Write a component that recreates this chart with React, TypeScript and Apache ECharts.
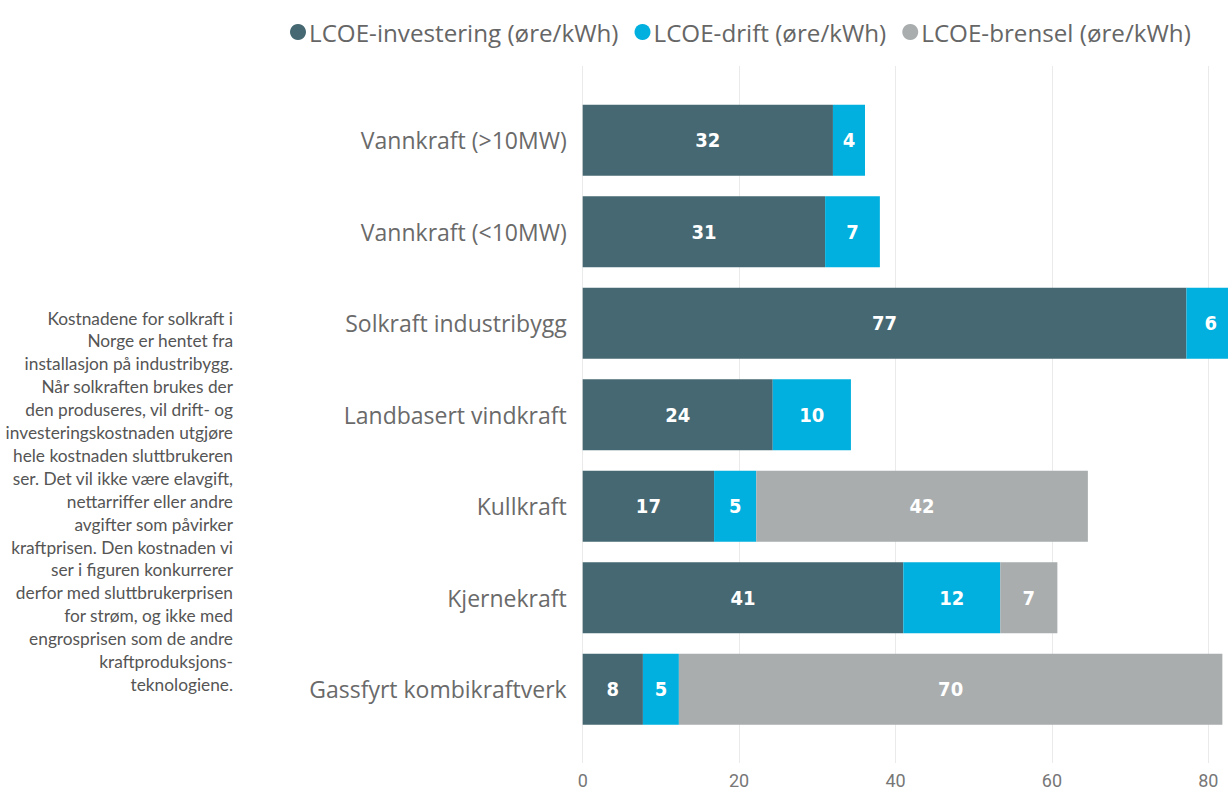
import React, { useEffect, useRef } from "react";
import * as echarts from "echarts";

const categories = [
  "Vannkraft (>10MW)",
  "Vannkraft (<10MW)",
  "Solkraft industribygg",
  "Landbasert vindkraft",
  "Kullkraft",
  "Kjernekraft",
  "Gassfyrt kombikraftverk",
];
const investering = [32.0, 31.0, 77.2, 24.3, 16.8, 41.0, 7.7];
const drift = [4.1, 7.0, 6.2, 10.0, 5.4, 12.4, 4.6];
const brensel = [null, null, null, null, 42.4, 7.3, 69.5];
const seriesNames = [
  "LCOE-investering (øre/kWh)",
  "LCOE-drift (øre/kWh)",
  "LCOE-brensel (øre/kWh)",
];
const colors = ["#456872", "#01B0DE", "#A9ADAE"];
const xTicks = { min: 0, max: 86, interval: 20 };
const noteLines = [
  "Kostnadene for solkraft i",
  "Norge er hentet fra",
  "installasjon på industribygg.",
  "Når solkraften brukes der",
  "den produseres, vil drift- og",
  "investeringskostnaden utgjøre",
  "hele kostnaden sluttbrukeren",
  "ser. Det vil ikke være elavgift,",
  "nettarriffer eller andre",
  "avgifter som påvirker",
  "kraftprisen. Den kostnaden vi",
  "ser i figuren konkurrerer",
  "derfor med sluttbrukerprisen",
  "for strøm, og ikke med",
  "engrosprisen som de andre",
  "kraftproduksjons-",
  "teknologiene.",
];

export default function App() {
  const ref = useRef<HTMLDivElement>(null);
  useEffect(() => {
    if (!ref.current) return;
    const chart = echarts.init(ref.current, null, { renderer: "svg" });
    const pxPerUnit = 7.82;
    const left = 582.7;
    const width = pxPerUnit * xTicks.max;
    const data = [investering, drift, brensel];
    chart.setOption({
      animation: false,
      legend: {
        left: 285,
        top: 15,
        icon: "circle",
        itemWidth: 16,
        itemHeight: 16,
        itemGap: 16,
        textStyle: { fontFamily: "Open Sans", fontSize: 24.2, color: "#666", padding: [0, 0, 0, -2] },
        data: seriesNames,
      },
      grid: [
        { left, top: 66, width, height: 697 },
        { left, top: 94.5, width, height: 640.5 },
      ],
      xAxis: [
        {
          gridIndex: 0,
          type: "value",
          min: xTicks.min,
          max: xTicks.max,
          interval: xTicks.interval,
          axisLine: { show: false },
          axisTick: { show: false },
          splitLine: { lineStyle: { color: "#EAEAEA", width: 1 } },
          axisLabel: {
            showMaxLabel: false,
            color: "#777",
            fontSize: 18,
            fontFamily: "Roboto",
            margin: 8,
          },
        },
        {
          gridIndex: 1,
          type: "value",
          min: xTicks.min,
          max: xTicks.max,
          interval: xTicks.interval,
          show: false,
        },
      ],
      yAxis: [
        { gridIndex: 0, type: "value", show: false },
        {
          gridIndex: 1,
          type: "category",
          inverse: true,
          data: categories,
          axisLine: { show: false },
          axisTick: { show: false },
          splitLine: { show: false },
          axisLabel: {
            color: "#6a6a6a",
            fontSize: 23,
            fontFamily: "Open Sans",
            margin: 16,
          },
        },
      ],
      series: seriesNames.map((name, i) => ({
        name,
        type: "bar",
        stack: "total",
        xAxisIndex: 1,
        yAxisIndex: 1,
        barWidth: 71,
        data: data[i],
        itemStyle: { color: colors[i] },
        label: {
          show: true,
          position: "inside",
          color: "#fff",
          fontFamily: "DejaVu Sans Condensed",
          fontWeight: "bold",
          fontSize: 20,
          formatter: (p: any) => String(Math.round(p.value)),
        },
      })),
      graphic: noteLines.map((t, i) => ({
        type: "text",
        x: 233,
        y: 318 + i * 22.9,
        style: {
          text: t,
          textAlign: "right",
          textVerticalAlign: "middle",
          fontFamily: "Lato",
          fontSize: 17.3,
          fill: "#555",
        },
      })),
    });
    return () => chart.dispose();
  }, []);
  return (
    <div style={{ position: "absolute", left: 0, top: 0, width: 1228, height: 790, overflow: "hidden" }}>
      <div ref={ref} style={{ width: 1300, height: 790 }} />
    </div>
  );
}
